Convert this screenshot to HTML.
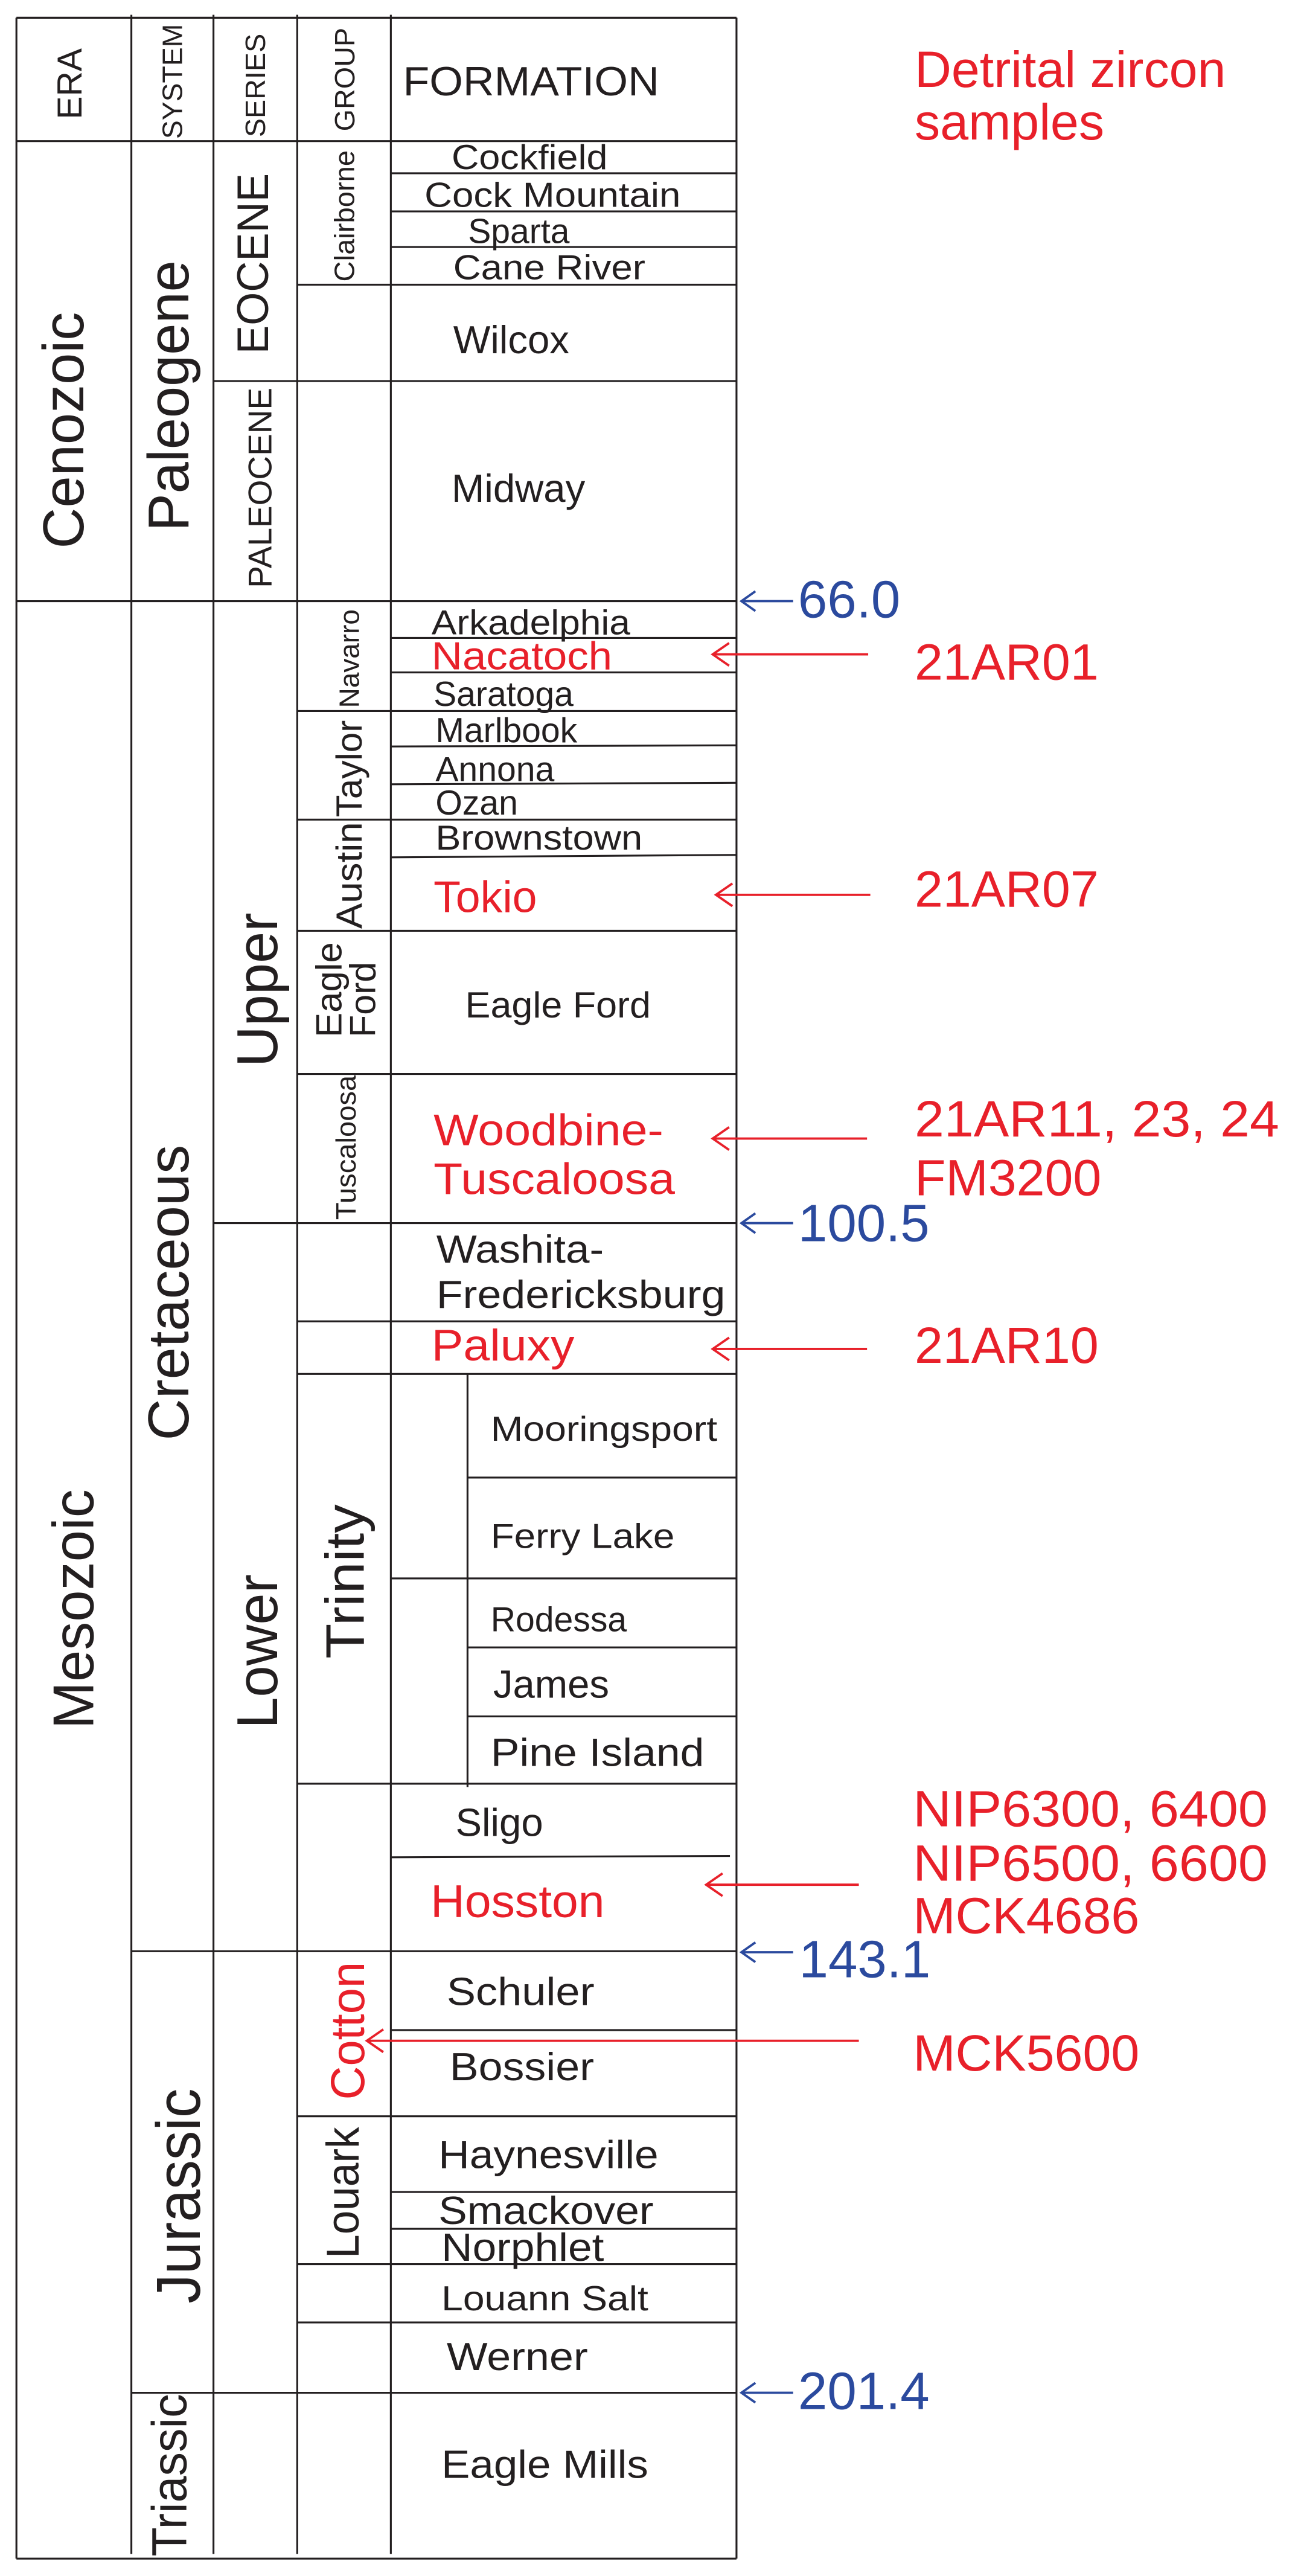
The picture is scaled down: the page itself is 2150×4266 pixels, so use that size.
<!DOCTYPE html>
<html><head><meta charset="utf-8"><style>
html,body{margin:0;padding:0;background:#fff;}
svg{display:block;}
text{font-family:"Liberation Sans",Arial,sans-serif;fill:#231f20;}
.r{fill:#e8202a;}
.b{fill:#2b4a9e;}
</style></head><body>
<svg width="2150" height="4266" viewBox="0 0 790.44 1568.38" xmlns="http://www.w3.org/2000/svg">
<rect x="0" y="0" width="790.44" height="1568.38" fill="#fff"/>
<g stroke="#231f20" stroke-width="1.15" fill="none">
<!-- verticals -->
<line x1="10" y1="10.8" x2="10" y2="1557.8"/>
<line x1="80" y1="9" x2="80" y2="1555"/>
<line x1="130" y1="9" x2="130" y2="1555"/>
<line x1="181" y1="9" x2="181" y2="1555"/>
<line x1="238" y1="9" x2="238" y2="1555"/>
<line x1="448.5" y1="10.8" x2="448.5" y2="1557.8"/>
<line x1="284.7" y1="836.5" x2="284.7" y2="1088"/>
<!-- horizontals -->
<line x1="10" y1="10.8" x2="448.5" y2="10.8"/>
<line x1="10" y1="85.9" x2="448.5" y2="85.9"/>
<line x1="238" y1="105.5" x2="448.5" y2="105.5"/>
<line x1="238" y1="128.7" x2="448.5" y2="128.7"/>
<line x1="238" y1="150.4" x2="448.5" y2="150.4"/>
<line x1="181" y1="173.3" x2="448.5" y2="173.3"/>
<line x1="130" y1="232" x2="448.5" y2="232"/>
<line x1="10" y1="366" x2="448.5" y2="366"/>
<line x1="238" y1="388.4" x2="448.5" y2="388.4"/>
<line x1="238" y1="409.4" x2="448.5" y2="409.4"/>
<line x1="181" y1="432.9" x2="448.5" y2="432.9"/>
<line x1="238" y1="454.5" x2="448.5" y2="453.8"/>
<line x1="238" y1="477.5" x2="448.5" y2="476.6"/>
<line x1="181" y1="499" x2="448.5" y2="499"/>
<line x1="238" y1="522" x2="448.5" y2="520.5"/>
<line x1="181" y1="566.7" x2="448.5" y2="566.7"/>
<line x1="181" y1="653.9" x2="448.5" y2="653.9"/>
<line x1="130" y1="744.7" x2="448.5" y2="744.7"/>
<line x1="181" y1="804.5" x2="448.5" y2="804.5"/>
<line x1="181" y1="836.5" x2="448.5" y2="836.5"/>
<line x1="284.7" y1="899.6" x2="448.5" y2="899.6"/>
<line x1="238" y1="961" x2="448.5" y2="961"/>
<line x1="284.7" y1="1003" x2="448.5" y2="1003"/>
<line x1="284.7" y1="1045" x2="448.5" y2="1045"/>
<line x1="181" y1="1086" x2="448.5" y2="1086"/>
<line x1="238" y1="1130.8" x2="444.5" y2="1130"/>
<line x1="80" y1="1188" x2="448.5" y2="1188"/>
<line x1="238" y1="1236" x2="448.5" y2="1236"/>
<line x1="181" y1="1288.5" x2="448.5" y2="1288.5"/>
<line x1="238" y1="1334.6" x2="448.5" y2="1334.6"/>
<line x1="238" y1="1357" x2="448.5" y2="1357"/>
<line x1="181" y1="1378.5" x2="448.5" y2="1378.5"/>
<line x1="181" y1="1414" x2="448.5" y2="1414"/>
<line x1="80" y1="1456.8" x2="448.5" y2="1456.8"/>
<line x1="10" y1="1557.8" x2="448.5" y2="1557.8"/>
</g>

<!-- red arrows -->
<g stroke="#e8202a" stroke-width="1.4" fill="none">
<line x1="434" y1="398.4" x2="528.7" y2="398.4"/><polyline points="444,391.5 434,398.4 444,405.3"/>
<line x1="436" y1="544.8" x2="530" y2="544.8"/><polyline points="446,537.9 436,544.8 446,551.7"/>
<line x1="434" y1="693.2" x2="528" y2="693.2"/><polyline points="444,686.3 434,693.2 444,700.1"/>
<line x1="434" y1="821.3" x2="528" y2="821.3"/><polyline points="444,814.4 434,821.3 444,828.2"/>
<line x1="430" y1="1147.5" x2="523" y2="1147.5"/><polyline points="440,1140.6 430,1147.5 440,1154.4"/>
<line x1="223.4" y1="1242.5" x2="523" y2="1242.5"/><polyline points="233.4,1235.6 223.4,1242.5 233.4,1249.4"/>
</g>
<!-- blue arrows -->
<g stroke="#2b4a9e" stroke-width="1.4" fill="none">
<line x1="451.5" y1="366" x2="483" y2="366"/><polyline points="460,360 451.5,366 460,372"/>
<line x1="451.5" y1="744.7" x2="483" y2="744.7"/><polyline points="460,738.7 451.5,744.7 460,750.7"/>
<line x1="451.5" y1="1188.6" x2="483" y2="1188.6"/><polyline points="460,1182.6 451.5,1188.6 460,1194.6"/>
<line x1="451.5" y1="1456.8" x2="483" y2="1456.8"/><polyline points="460,1450.8 451.5,1456.8 460,1462.8"/>
</g>

<!-- header vertical labels -->
<g dominant-baseline="central" text-anchor="middle">
<text transform="translate(42.7,51) rotate(-90)" font-size="21">ERA</text>
<text transform="translate(105,49.6) rotate(-90)" font-size="17" textLength="70" lengthAdjust="spacingAndGlyphs">SYSTEM</text>
<text transform="translate(155.5,52) rotate(-90)" font-size="17" textLength="63" lengthAdjust="spacingAndGlyphs">SERIES</text>
<text transform="translate(210,48.4) rotate(-90)" font-size="17" textLength="63" lengthAdjust="spacingAndGlyphs">GROUP</text>
<text transform="translate(39,262) rotate(-90)" font-size="35" textLength="144" lengthAdjust="spacingAndGlyphs">Cenozoic</text>
<text transform="translate(103,241) rotate(-90)" font-size="35" textLength="165" lengthAdjust="spacingAndGlyphs">Paleogene</text>
<text transform="translate(154,160.5) rotate(-90)" font-size="27" textLength="110" lengthAdjust="spacingAndGlyphs">EOCENE</text>
<text transform="translate(158.5,297) rotate(-90)" font-size="20" textLength="122" lengthAdjust="spacingAndGlyphs">PALEOCENE</text>
<text transform="translate(209.8,131.5) rotate(-90)" font-size="17" textLength="80" lengthAdjust="spacingAndGlyphs">Clairborne</text>
<text transform="translate(212.7,401) rotate(-90)" font-size="17" textLength="60" lengthAdjust="spacingAndGlyphs">Navarro</text>
<text transform="translate(212.7,468) rotate(-90)" font-size="22" textLength="59" lengthAdjust="spacingAndGlyphs">Taylor</text>
<text transform="translate(212.7,533) rotate(-90)" font-size="22" textLength="65" lengthAdjust="spacingAndGlyphs">Austin</text>
<text transform="translate(210.7,698.7) rotate(-90)" font-size="17" textLength="88" lengthAdjust="spacingAndGlyphs">Tuscaloosa</text>
<text transform="translate(157,602.7) rotate(-90)" font-size="35" textLength="94" lengthAdjust="spacingAndGlyphs">Upper</text>
<text transform="translate(45,979.7) rotate(-90)" font-size="35" textLength="146" lengthAdjust="spacingAndGlyphs">Mesozoic</text>
<text transform="translate(103,787) rotate(-90)" font-size="35" textLength="180" lengthAdjust="spacingAndGlyphs">Cretaceous</text>
<text transform="translate(157,1005.5) rotate(-90)" font-size="35" textLength="94" lengthAdjust="spacingAndGlyphs">Lower</text>
<text transform="translate(210.4,962.9) rotate(-90)" font-size="33" textLength="94" lengthAdjust="spacingAndGlyphs">Trinity</text>
<text transform="translate(108.4,1337) rotate(-90)" font-size="38" textLength="131" lengthAdjust="spacingAndGlyphs">Jurassic</text>
<text class="r" transform="translate(211.8,1236.5) rotate(-90)" font-size="29" textLength="84" lengthAdjust="spacingAndGlyphs">Cotton</text>
<text transform="translate(209,1335) rotate(-90)" font-size="28" textLength="80" lengthAdjust="spacingAndGlyphs">Louark</text>
<text transform="translate(103.4,1507) rotate(-90)" font-size="30" textLength="99" lengthAdjust="spacingAndGlyphs">Triassic</text>
</g>
<g dominant-baseline="central" text-anchor="start">
<text transform="translate(200.4,631.6) rotate(-90)" font-size="22" textLength="58" lengthAdjust="spacingAndGlyphs">Eagle</text>
<text transform="translate(221,631.6) rotate(-90)" font-size="22" textLength="46" lengthAdjust="spacingAndGlyphs">Ford</text>
</g>

<!-- formation names -->
<text x="245.4" y="58" font-size="25" textLength="156" lengthAdjust="spacingAndGlyphs">FORMATION</text>
<text x="275" y="103" font-size="21" textLength="95" lengthAdjust="spacingAndGlyphs">Cockfield</text>
<text x="258.5" y="126" font-size="21" textLength="156" lengthAdjust="spacingAndGlyphs">Cock Mountain</text>
<text x="285" y="148" font-size="21">Sparta</text>
<text x="276" y="170" font-size="21" textLength="117" lengthAdjust="spacingAndGlyphs">Cane River</text>
<text x="276" y="215" font-size="24">Wilcox</text>
<text x="275" y="305.6" font-size="24">Midway</text>
<text x="262.8" y="386.2" font-size="21" textLength="121" lengthAdjust="spacingAndGlyphs">Arkadelphia</text>
<text class="r" x="262.8" y="407.6" font-size="24" textLength="110" lengthAdjust="spacingAndGlyphs">Nacatoch</text>
<text x="264" y="429.8" font-size="21">Saratoga</text>
<text x="265.2" y="451.8" font-size="21">Marlbook</text>
<text x="265.2" y="475.5" font-size="21">Annona</text>
<text x="265.2" y="496" font-size="21">Ozan</text>
<text x="265.2" y="517.3" font-size="21" textLength="126" lengthAdjust="spacingAndGlyphs">Brownstown</text>
<text class="r" x="264" y="555.4" font-size="27">Tokio</text>
<text x="283.3" y="619.4" font-size="22" textLength="113" lengthAdjust="spacingAndGlyphs">Eagle Ford</text>
<text class="r" x="264" y="697.2" font-size="27" textLength="140" lengthAdjust="spacingAndGlyphs">Woodbine-</text>
<text class="r" x="264" y="727" font-size="27" textLength="147" lengthAdjust="spacingAndGlyphs">Tuscaloosa</text>
<text x="265.7" y="768.8" font-size="24" textLength="102" lengthAdjust="spacingAndGlyphs">Washita-</text>
<text x="265.7" y="796.3" font-size="24" textLength="176" lengthAdjust="spacingAndGlyphs">Fredericksburg</text>
<text class="r" x="262.8" y="828.3" font-size="27" textLength="87" lengthAdjust="spacingAndGlyphs">Paluxy</text>
<text x="298.8" y="877.2" font-size="21" textLength="138" lengthAdjust="spacingAndGlyphs">Mooringsport</text>
<text x="298.8" y="942.4" font-size="21" textLength="112" lengthAdjust="spacingAndGlyphs">Ferry Lake</text>
<text x="298.8" y="993.2" font-size="21">Rodessa</text>
<text x="300.3" y="1033.7" font-size="24">James</text>
<text x="298.8" y="1075.2" font-size="24" textLength="130" lengthAdjust="spacingAndGlyphs">Pine Island</text>
<text x="277.4" y="1117.8" font-size="24">Sligo</text>
<text class="r" x="262.2" y="1167.3" font-size="28" textLength="106" lengthAdjust="spacingAndGlyphs">Hosston</text>
<text x="272" y="1220.8" font-size="24" textLength="90" lengthAdjust="spacingAndGlyphs">Schuler</text>
<text x="273.8" y="1266.6" font-size="24" textLength="88" lengthAdjust="spacingAndGlyphs">Bossier</text>
<text x="267" y="1320" font-size="24" textLength="134" lengthAdjust="spacingAndGlyphs">Haynesville</text>
<text x="267" y="1354" font-size="24" textLength="131" lengthAdjust="spacingAndGlyphs">Smackover</text>
<text x="268.8" y="1376.5" font-size="24" textLength="99" lengthAdjust="spacingAndGlyphs">Norphlet</text>
<text x="268.8" y="1406.6" font-size="21" textLength="126" lengthAdjust="spacingAndGlyphs">Louann Salt</text>
<text x="272" y="1443" font-size="24" textLength="86" lengthAdjust="spacingAndGlyphs">Werner</text>
<text x="268.8" y="1508.6" font-size="24" textLength="126" lengthAdjust="spacingAndGlyphs">Eagle Mills</text>

<!-- right labels -->
<text class="r" x="557" y="53" font-size="31">Detrital zircon</text>
<text class="r" x="557" y="85" font-size="31">samples</text>
<text class="r" x="557" y="413.7" font-size="31">21AR01</text>
<text class="r" x="557" y="552" font-size="31">21AR07</text>
<text class="r" x="557" y="692" font-size="31" textLength="222" lengthAdjust="spacingAndGlyphs">21AR11, 23, 24</text>
<text class="r" x="557" y="727.7" font-size="31">FM3200</text>
<text class="r" x="557" y="829.8" font-size="31">21AR10</text>
<text class="r" x="556" y="1112" font-size="31" textLength="216" lengthAdjust="spacingAndGlyphs">NIP6300, 6400</text>
<text class="r" x="556" y="1145" font-size="31" textLength="216" lengthAdjust="spacingAndGlyphs">NIP6500, 6600</text>
<text class="r" x="556" y="1177" font-size="31">MCK4686</text>
<text class="r" x="556" y="1260.6" font-size="31">MCK5600</text>
<text class="b" x="486" y="376" font-size="32">66.0</text>
<text class="b" x="486" y="755.7" font-size="32">100.5</text>
<text class="b" x="486.6" y="1203.8" font-size="32">143.1</text>
<text class="b" x="486" y="1466.7" font-size="32">201.4</text>
</svg>
</body></html>
